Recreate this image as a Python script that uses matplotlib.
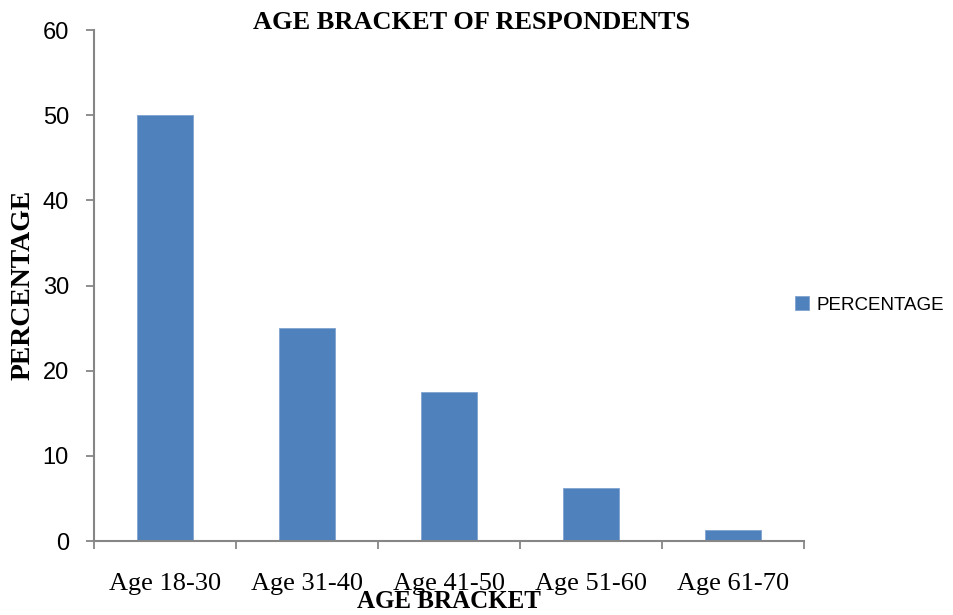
import numpy as np
import matplotlib
matplotlib.use("Agg")
import matplotlib.pyplot as plt
from matplotlib.ticker import FixedLocator, NullFormatter

# Age brackets and share of respondents (%)
age_brackets = ["Age 18-30", "Age 31-40", "Age 41-50", "Age 51-60", "Age 61-70"]
percentage = [50, 25, 17.5, 6.25, 1.25]
y_ticks = [0, 10, 20, 30, 40, 50, 60]

BAR_COLOR = "#4F81BD"
AXIS_GRAY = "#868686"
SERIF = "Liberation Serif"
SANS = "Liberation Sans"

fig = plt.figure(figsize=(9.54, 6.15), dpi=100)
ax = fig.add_axes([0.0985, 0.1203, 0.7443, 0.8309])

x = np.arange(len(age_brackets))
ax.bar(x, percentage, width=0.40, color=BAR_COLOR, edgecolor="#7FA3D0",
       linewidth=0.6, label="PERCENTAGE", zorder=2)

ax.set_xlim(-0.5, len(age_brackets) - 0.5)
ax.set_ylim(0, 60)
ax.set_yticks(y_ticks)
ax.set_yticklabels([str(v) for v in y_ticks], fontsize=17, family=SANS)

# category labels at bar centres, tick marks at category boundaries
ax.set_xticks(x)
ax.set_xticklabels(age_brackets, fontsize=19, family=SERIF)
ax.tick_params(axis="x", which="major", length=0, pad=23)
ax.xaxis.set_minor_locator(FixedLocator(np.arange(-0.5, len(age_brackets), 1.0)))
ax.xaxis.set_minor_formatter(NullFormatter())
ax.tick_params(axis="x", which="minor", length=6, width=1.3, color=AXIS_GRAY, direction="out")
ax.tick_params(axis="y", length=6, width=1.3, color=AXIS_GRAY, direction="out", pad=12)

for side in ["top", "right"]:
    ax.spines[side].set_visible(False)
for side in ["left", "bottom"]:
    ax.spines[side].set_color(AXIS_GRAY)
    ax.spines[side].set_linewidth(1.5)

fig.text(0.494, 0.964, "AGE BRACKET OF RESPONDENTS", ha="center", va="center",
         fontsize=19, fontweight="bold", family=SERIF)
fig.text(0.024, 0.537, "PERCENTAGE", ha="center", va="center", rotation=90,
         fontsize=20, fontweight="bold", family=SERIF)
fig.text(0.471, 0.022, "AGE BRACKET", ha="center", va="center",
         fontsize=18, fontweight="bold", family=SERIF)

ax.legend(loc="center left", bbox_to_anchor=(0.816, 0.504), bbox_transform=fig.transFigure,
          frameon=False, prop={"family": SANS, "size": 13.5},
          handlelength=0.72, handleheight=0.72, handletextpad=0.4)

fig.savefig("out.png", dpi=100)
